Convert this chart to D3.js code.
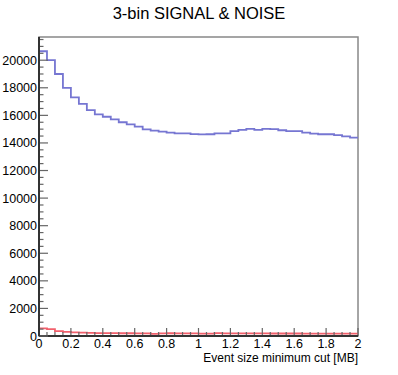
<!DOCTYPE html>
<html>
<head>
<meta charset="utf-8">
<script src="https://cdn.jsdelivr.net/npm/d3@7"></script>
<style>
  body { margin: 0; background: #fff; }
  svg text { font-family: "Liberation Sans", Arial, Helvetica, sans-serif; fill: #000; }
</style>
</head>
<body>
<svg id="chart" width="398" height="375"></svg>
<script>
// 40 bins of 0.05 MB between 0 and 2
var binEdges = d3.range(41).map(function (i) { return i * 0.05; });

var signal = [20650, 20000, 19000, 18000, 17300, 16830, 16380, 16070, 15900, 15710,
              15500, 15350, 15180, 14990, 14900, 14820, 14750, 14700, 14700, 14640,
              14620, 14630, 14700, 14700, 14850, 14950, 15020, 14950, 15020, 15000,
              14920, 14850, 14850, 14750, 14680, 14630, 14630, 14560, 14480, 14390];

var noise = [560, 500, 360, 300, 260, 240, 225, 215, 210, 205,
             200, 200, 195, 195, 160, 195, 200, 195, 190, 190,
             170, 175, 210, 195, 190, 190, 185, 185, 185, 180,
             180, 180, 180, 175, 175, 175, 175, 170, 170, 170];

var xTicks = [0, 0.2, 0.4, 0.6, 0.8, 1, 1.2, 1.4, 1.6, 1.8, 2];
var yTicks = [0, 2000, 4000, 6000, 8000, 10000, 12000, 14000, 16000, 18000, 20000];

(function () {
  var svg = d3.select("#chart");
  var padL = 39, padR = 358, padT = 37, padB = 336;

  var x = d3.scaleLinear().domain([0, 2]).range([padL, padR]);
  var y = d3.scaleLinear().domain([0, d3.max(signal) * 1.05]).range([padB, padT]);

  // frame (top/right grey)
  svg.append("rect")
      .attr("x", padL).attr("y", padT)
      .attr("width", padR - padL).attr("height", padB - padT)
      .attr("fill", "none").attr("stroke", "#888").attr("stroke-width", 1.5);

  function steps(vals) {
    var pts = vals.map(function (v, i) { return [binEdges[i], v]; });
    pts.push([binEdges[vals.length], vals[vals.length - 1]]);
    return pts;
  }
  var line = d3.line()
      .x(function (d) { return x(d[0]); })
      .y(function (d) { return y(d[1]); })
      .curve(d3.curveStepAfter);

  svg.append("path").attr("d", line(steps(signal)))
      .attr("fill", "none").attr("stroke", "#7676d2").attr("stroke-width", 1.8);
  svg.append("path").attr("d", line(steps(noise)))
      .attr("fill", "none").attr("stroke", "#f2606c").attr("stroke-width", 1.8);

  // x axis: major every 0.2, minor every 0.05, ticks pointing inward
  var xMinor = d3.range(0, 41).map(function (i) { return i * 0.05; });
  var gx = svg.append("g");
  gx.selectAll("line.tick").data(xMinor).enter().append("line")
      .attr("x1", function (d) { return x(d); }).attr("x2", function (d) { return x(d); })
      .attr("y1", padB).attr("y2", function (d, i) { return i % 4 === 0 ? padB - 8 : padB - 4; })
      .attr("stroke", "#666").attr("stroke-width", 1.2);
  gx.append("line").attr("x1", padL).attr("x2", padR).attr("y1", padB).attr("y2", padB)
      .attr("stroke", "#333").attr("stroke-width", 2);
  gx.selectAll("text").data(xTicks).enter().append("text")
      .attr("x", function (d) { return x(d); }).attr("y", 347.5)
      .attr("text-anchor", "middle").attr("font-size", "12.5px")
      .text(function (d) { return d3.format("")(d); });
  svg.append("text").attr("x", padR).attr("y", 362)
      .attr("text-anchor", "end").attr("font-size", "12px")
      .text("Event size minimum cut [MB]");

  // y axis: major every 2000, minor every 500
  var yMinor = d3.range(0, 44).map(function (i) { return i * 500; })
      .filter(function (d) { return y(d) >= padT; });
  var gy = svg.append("g");
  gy.selectAll("line.tick").data(yMinor).enter().append("line")
      .attr("y1", function (d) { return y(d); }).attr("y2", function (d) { return y(d); })
      .attr("x1", padL).attr("x2", function (d, i) { return i % 4 === 0 ? padL + 9 : padL + 4.5; })
      .attr("stroke", "#666").attr("stroke-width", 1.2);
  gy.append("line").attr("x1", padL).attr("x2", padL).attr("y1", padT).attr("y2", padB)
      .attr("stroke", "#333").attr("stroke-width", 2);
  gy.selectAll("text").data(yTicks).enter().append("text")
      .attr("x", 37).attr("y", function (d) { return y(d); }).attr("dy", "0.36em")
      .attr("text-anchor", "end").attr("font-size", "12.5px")
      .text(function (d) { return d; });

  // title
  svg.append("text").attr("x", 199).attr("y", 18.5)
      .attr("text-anchor", "middle").attr("font-size", "16.5px")
      .text("3-bin SIGNAL & NOISE");
})();
</script>
</body>
</html>
